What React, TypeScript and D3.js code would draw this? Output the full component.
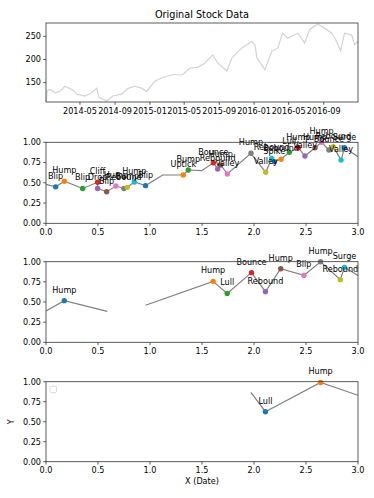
import React from 'react';
import * as d3 from 'd3';

// stock prices
const stockDates = [
  '2014-01-02', '2014-01-06', '2014-01-16', '2014-02-03', '2014-02-20', '2014-03-09', '2014-04-03',
  '2014-04-20', '2014-05-18', '2014-06-11', '2014-06-29', '2014-07-06', '2014-08-03', '2014-08-24',
  '2014-09-24', '2014-10-15', '2014-11-09', '2014-12-03', '2014-12-21', '2015-01-18', '2015-02-15',
  '2015-03-22', '2015-04-26', '2015-05-20', '2015-06-17', '2015-07-12', '2015-08-09', '2015-08-27',
  '2015-09-28', '2015-10-15', '2015-11-19', '2015-12-24', '2016-01-04', '2016-01-11', '2016-02-08',
  '2016-03-03', '2016-03-24', '2016-04-10', '2016-04-28', '2016-06-02', '2016-06-26', '2016-07-14',
  '2016-08-11', '2016-09-04', '2016-09-29', '2016-10-16', '2016-10-30', '2016-11-13', '2016-12-08',
  '2016-12-18', '2016-12-30',
];
const stockPrices = [
  108, 133, 135, 128, 131, 142, 135,
  125, 121, 128, 138, 118, 110, 121,
  125, 137, 142, 138, 131, 153, 161,
  167, 167, 181, 183, 192, 210, 192,
  175, 203, 225, 239, 232, 203, 178,
  218, 225, 257, 246, 257, 236, 265,
  277, 268, 257, 239, 219, 257, 253,
  232, 239,
];

// panel 2: full normalised line with points
const lineAX = [0, 0.093, 0.176, 0.352, 0.496, 0.496, 0.583, 0.672, 0.749, 0.782, 0.849, 0.957, 1.122, 1.32, 1.368, 1.497, 1.609, 1.651, 1.68, 1.743, 1.971, 2.113, 2.17, 2.195, 2.26, 2.34, 2.426, 2.49, 2.587, 2.65, 2.72, 2.762, 2.837, 2.87, 3.0];
const lineAY = [0.48, 0.45, 0.52, 0.43, 0.506, 0.43, 0.39, 0.46, 0.43, 0.444, 0.51, 0.465, 0.596, 0.596, 0.658, 0.65, 0.748, 0.67, 0.72, 0.609, 0.864, 0.63, 0.8, 0.76, 0.79, 0.876, 0.933, 0.83, 0.933, 1.0, 0.905, 0.946, 0.78, 0.933, 0.822];
const pointsAX = [0.093, 0.176, 0.352, 0.496, 0.496, 0.583, 0.672, 0.749, 0.782, 0.849, 0.957, 1.32, 1.368, 1.609, 1.651, 1.68, 1.743, 1.971, 2.113, 2.17, 2.195, 2.26, 2.34, 2.426, 2.49, 2.587, 2.65, 2.72, 2.762, 2.837, 2.87];
const pointsAY = [0.45, 0.52, 0.43, 0.506, 0.43, 0.39, 0.46, 0.43, 0.444, 0.51, 0.465, 0.596, 0.658, 0.748, 0.67, 0.72, 0.609, 0.864, 0.63, 0.8, 0.76, 0.79, 0.876, 0.933, 0.83, 0.933, 1.0, 0.905, 0.946, 0.78, 0.933];
const labelsA = ['Blip', 'Hump', 'Blip', 'Cliff', 'Drop', 'Blip', 'Hump', 'Rebound', 'Bump', 'Hump', 'Blip', 'Uptick', 'Bump', 'Bounce', 'Rebound', 'Hump', 'Valley', 'Hump', 'Valley', 'Rebound', 'Spike', 'Rebound', 'Lull', 'Hump', 'Valley', 'Hump', 'Hump', 'Bounce', 'Rebound', 'Valley', 'Surge'];

// panel 3: line with a gap (null)
const lineBX = [0, 0.176, 0.589, null, 0.957, 1.607, 1.742, 1.976, 2.11, 2.257, 2.48, 2.64, 2.83, 2.87, 3.0];
const lineBY = [0.39, 0.517, 0.384, null, 0.459, 0.756, 0.607, 0.864, 0.628, 0.913, 0.83, 1.0, 0.777, 0.93, 0.83];
const pointsBX = [0.176, 1.607, 1.742, 1.976, 2.11, 2.257, 2.48, 2.64, 2.83, 2.87];
const pointsBY = [0.517, 0.756, 0.607, 0.864, 0.628, 0.913, 0.83, 1.0, 0.777, 0.93];
const labelsB = ['Hump', 'Hump', 'Lull', 'Bounce', 'Rebound', 'Hump', 'Blip', 'Hump', 'Rebound', 'Surge'];

// panel 4
const lineCX = [1.97, 2.11, 2.64, 3.0];
const lineCY = [0.867, 0.625, 0.99, 0.83];
const pointsCX = [2.11, 2.64];
const pointsCY = [0.625, 0.99];
const labelsC = ['Lull', 'Hump'];

const yTicks = [0, 0.25, 0.5, 0.75, 1.0];
const xTicks = [0, 0.5, 1.0, 1.5, 2.0, 2.5, 3.0];
const priceTicks = [150, 200, 250];

const tab10 = d3.schemeCategory10;
const FONT = 'DejaVu Sans, sans-serif';
const FS = 8.1;
const AX_L = 46;
const AX_R = 358;
const SPINE = '#333';

function Frame({ top, bottom }: { top: number; bottom: number }) {
  return (
    <rect x={AX_L} y={top} width={AX_R - AX_L} height={bottom - top}
      fill="none" stroke={SPINE} strokeWidth={0.8} />
  );
}

function NormPanel({ top, bottom, lx, ly, px, py, labels, id, legend }: any) {
  const x = d3.scaleLinear().domain([0, 3]).range([AX_L, AX_R]);
  const y = d3.scaleLinear().domain([0, 1]).range([bottom, top]);
  const pts = lx.map((v: number | null, i: number) => [v, ly[i]]);
  const line = d3.line<any>()
    .defined(d => d[0] !== null && d[1] !== null)
    .x(d => x(d[0]))
    .y(d => y(d[1]));
  return (
    <g>
      <defs>
        <clipPath id={id}>
          <rect x={AX_L} y={top - 4} width={AX_R - AX_L} height={bottom - top + 4} />
        </clipPath>
      </defs>
      <path d={line(pts) || ''} fill="none" stroke="gray" strokeWidth={1.2} clipPath={`url(#${id})`} />
      {px.map((v: number, i: number) => (
        <circle key={i} cx={x(v)} cy={y(py[i])} r={2.7} fill={tab10[i % 10]} />
      ))}
      {px.map((v: number, i: number) => (
        <text key={'t' + i} x={x(v)} y={y(py[i]) - 8.1} textAnchor="middle"
          fontSize={FS} fontFamily={FONT} fill="#000">{labels[i]}</text>
      ))}
      <Frame top={top} bottom={bottom} />
      {yTicks.map(t => (
        <g key={'y' + t}>
          <line x1={AX_L - 2.8} x2={AX_L} y1={y(t)} y2={y(t)} stroke={SPINE} strokeWidth={0.8} />
          <text x={AX_L - 5} y={y(t)} dy="0.35em" textAnchor="end" fontSize={FS} fontFamily={FONT}>
            {d3.format('.2f')(t)}
          </text>
        </g>
      ))}
      {xTicks.map(t => (
        <g key={'x' + t}>
          <line x1={x(t)} x2={x(t)} y1={bottom} y2={bottom + 2.8} stroke={SPINE} strokeWidth={0.8} />
          <text x={x(t)} y={bottom + 11.5} textAnchor="middle" fontSize={FS} fontFamily={FONT}>
            {d3.format('.1f')(t)}
          </text>
        </g>
      ))}
      {legend && (
        <rect x={AX_L + 4} y={top + 4.5} width={6.5} height={6.5} rx={1.5}
          fill="#fff" stroke="#d0d0d0" strokeWidth={0.8} />
      )}
    </g>
  );
}

function StockPanel() {
  const top = 23;
  const bottom = 102;
  const parse = d3.timeParse('%Y-%m-%d');
  const dates = stockDates.map(d => parse(d) as Date);
  const x = d3.scaleTime().domain(d3.extent(dates) as [Date, Date]).range([AX_L, AX_R]);
  const y = d3.scaleLinear().domain([108, 279]).range([bottom, top]);
  const line = d3.line<number>()
    .x((_, i) => x(dates[i]))
    .y(d => y(d));
  const ticks = x.ticks(d3.timeMonth.every(4) as any);
  return (
    <g>
      <text x={(AX_L + AX_R) / 2} y={18} textAnchor="middle" fontSize={9.7} fontFamily={FONT}>
        Original Stock Data
      </text>
      <path d={line(stockPrices) || ''} fill="none" stroke="lightgray" strokeWidth={1.2} />
      <Frame top={top} bottom={bottom} />
      {priceTicks.map(t => (
        <g key={t}>
          <line x1={AX_L - 2.8} x2={AX_L} y1={y(t)} y2={y(t)} stroke={SPINE} strokeWidth={0.8} />
          <text x={AX_L - 5} y={y(t)} dy="0.35em" textAnchor="end" fontSize={FS} fontFamily={FONT}>{t}</text>
        </g>
      ))}
      {ticks.map(t => (
        <g key={t.getTime()}>
          <line x1={x(t)} x2={x(t)} y1={bottom} y2={bottom + 2.8} stroke={SPINE} strokeWidth={0.8} />
          <text x={x(t)} y={bottom + 11.5} textAnchor="middle" fontSize={FS} fontFamily={FONT}>
            {d3.timeFormat('%Y-%m')(t)}
          </text>
        </g>
      ))}
    </g>
  );
}

export default function App() {
  return (
    <svg width={374} height={498} style={{ position: 'absolute', left: 0, top: 0, background: '#fff' }}>
      <StockPanel />
      <NormPanel id="c1" top={142.3} bottom={223.3} lx={lineAX} ly={lineAY} px={pointsAX} py={pointsAY} labels={labelsA} />
      <NormPanel id="c2" top={261.7} bottom={342.3} lx={lineBX} ly={lineBY} px={pointsBX} py={pointsBY} labels={labelsB} />
      <NormPanel id="c3" top={381.7} bottom={461.7} lx={lineCX} ly={lineCY} px={pointsCX} py={pointsCY} labels={labelsC} legend />
      <text x={(AX_L + AX_R) / 2} y={484} textAnchor="middle" fontSize={FS} fontFamily={FONT}>X (Date)</text>
      <text transform={`translate(14,${(381.7 + 461.7) / 2}) rotate(-90)`} textAnchor="middle"
        fontSize={FS} fontFamily={FONT}>Y</text>
    </svg>
  );
}
